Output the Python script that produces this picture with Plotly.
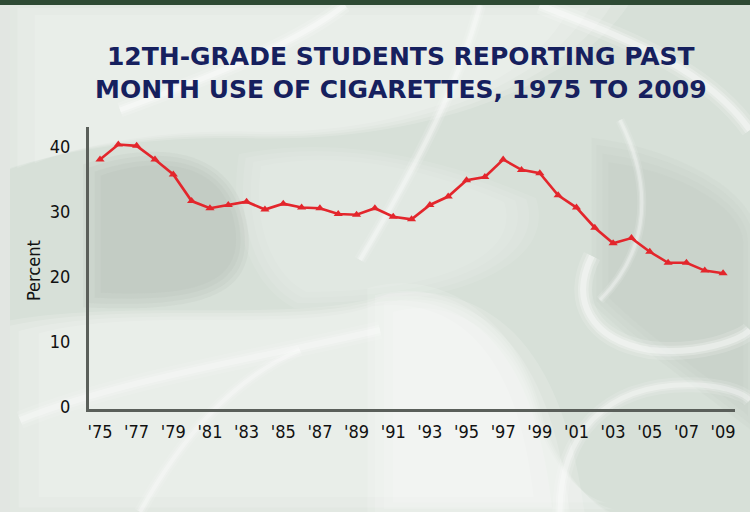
import plotly.graph_objects as go

years = list(range(1975, 2010))
percent = [38.1, 40.4, 40.2, 38.1, 35.8, 31.7, 30.6, 31.1, 31.6, 30.4,
           31.3, 30.7, 30.6, 29.7, 29.6, 30.6, 29.3, 28.9, 31.1, 32.4,
           34.9, 35.4, 38.1, 36.5, 36.0, 32.6, 30.7, 27.6, 25.2, 26.0,
           23.9, 22.2, 22.2, 21.0, 20.6]
tick_years = list(range(1975, 2010, 2))
tick_labels = ["'" + str(y)[2:] for y in tick_years]
y_ticks = [0, 10, 20, 30, 40]

title_text = "12TH-GRADE STUDENTS REPORTING PAST<br>MONTH USE OF CIGARETTES, 1975 TO 2009"

W, H = 750, 512
ML, MR, MT, MB = 89, 15, 127, 103
PW, PH = W - ML - MR, H - MT - MB


def px(x):
    return (x - ML) / PW


def py(y):
    return (H - MB - y) / PH


def path(cmds, scale=1.0):
    pts = [c for c in cmds if not isinstance(c, str)]
    cx = sum(p[0] for p in pts) / len(pts)
    cy = sum(p[1] for p in pts) / len(pts)
    out = []
    for c in cmds:
        if isinstance(c, str):
            out.append(c)
        else:
            x = cx + (c[0] - cx) * scale
            y = cy + (c[1] - cy) * scale
            out.append("%.4f,%.4f" % (px(x), py(y)))
    return " ".join(out)


fig = go.Figure()
fig.add_trace(go.Scatter(
    x=years, y=percent, mode="lines+markers",
    line=dict(color="#e3262c", width=2.6),
    marker=dict(symbol="triangle-up", size=8, color="#e3262c"),
    hoverinfo="x+y", showlegend=False,
))

shapes = []


def fill_shape(cmds, color, op):
    for s in (1.1, 1.04, 0.97, 0.9):
        shapes.append(dict(type="path", xref="paper", yref="paper", path=path(cmds, s),
                           fillcolor=color, opacity=op / 3.0, line=dict(width=0), layer="below"))


def stroke_shape(cmds, width, op):
    for w, o in ((width * 3.0, op * 0.25), (width * 1.8, op * 0.4), (width, op * 0.6)):
        shapes.append(dict(type="path", xref="paper", yref="paper", path=path(cmds),
                           fillcolor="rgba(0,0,0,0)", opacity=o,
                           line=dict(color="white", width=w), layer="below"))


# light washes
fill_shape(["M", (10, 5), "L", (600, 5), "C", (560, 80), (420, 140), (250, 135),
            "C", (150, 132), (60, 150), (10, 170), "Z"], "white", 0.45)
fill_shape(["M", (10, 330), "C", (120, 300), (300, 330), (380, 300),
            "C", (460, 290), (540, 330), (560, 512), "L", (10, 512), "Z"], "white", 0.45)
fill_shape(["M", (380, 300), "C", (450, 280), (520, 330), (540, 420),
            "C", (560, 480), (600, 512), (620, 512), "L", (380, 512), "Z"], "white", 0.4)
fill_shape(["M", (250, 160), "C", (350, 140), (450, 170), (520, 200),
            "C", (540, 260), (450, 300), (300, 300), "C", (260, 280), (240, 220), (250, 160), "Z"],
           "white", 0.25)
# darker regions
fill_shape(["M", (92, 170), "C", (150, 150), (225, 150), (240, 220),
            "C", (255, 290), (200, 305), (92, 300), "Z"], "#aab5ab", 0.4)
fill_shape(["M", (600, 150), "C", (680, 160), (750, 200), (750, 240),
            "L", (750, 420), "C", (700, 380), (640, 340), (600, 300), "Z"], "#b7c2b8", 0.35)
# smoke wisps
stroke_shape(["M", (345, 5), "C", (300, 40), (230, 70), (120, 110)], 5, 0.6)
stroke_shape(["M", (480, 5), "C", (460, 80), (420, 160), (360, 260)], 4, 0.5)
stroke_shape(["M", (540, 5), "C", (600, 30), (700, 60), (750, 130)], 6, 0.6)
stroke_shape(["M", (592, 256), "C", (570, 300), (590, 340), (650, 350),
              "C", (700, 355), (740, 340), (750, 330)], 6, 0.6)
stroke_shape(["M", (560, 512), "C", (560, 440), (600, 380), (700, 385),
              "C", (730, 387), (745, 395), (750, 400)], 5, 0.5)
stroke_shape(["M", (20, 420), "C", (120, 380), (250, 360), (380, 330)], 6, 0.45)
stroke_shape(["M", (140, 512), "C", (180, 440), (230, 380), (300, 350)], 4, 0.45)
stroke_shape(["M", (620, 120), "C", (660, 200), (640, 260), (600, 300)], 3, 0.45)

# left strip and top band
shapes.append(dict(type="rect", xref="paper", yref="paper", x0=px(0), x1=px(10), y0=py(H), y1=py(0),
                   fillcolor="#e2e6e2", line=dict(width=0), layer="below"))
shapes.append(dict(type="rect", xref="paper", yref="paper", x0=px(0), x1=px(W), y0=py(5), y1=py(0),
                   fillcolor="#2e4a34", line=dict(width=0), layer="above"))

tick_font = dict(family="DejaVu Sans Condensed, Roboto, sans-serif", size=18, color="#111111")

fig.update_layout(
    width=W, height=H,
    margin=dict(l=ML, r=MR, t=MT, b=MB, pad=0),
    paper_bgcolor="#d7e0d8",
    plot_bgcolor="rgba(0,0,0,0)",
    shapes=shapes,
    font=tick_font,
    xaxis=dict(
        range=[1974.4, 2009.65], tickmode="array", tickvals=tick_years, ticktext=tick_labels,
        showgrid=False, zeroline=False, showline=True, linecolor="#5a5f5a", linewidth=3,
        ticks="", tickfont=tick_font, ticklabelstandoff=4,
    ),
    yaxis=dict(
        range=[-0.3, 43.1], tickmode="array", tickvals=y_ticks,
        showgrid=False, zeroline=False, showline=True, linecolor="#5a5f5a", linewidth=3,
        ticks="", tickfont=tick_font, ticklabelstandoff=12,
    ),
    annotations=[
        dict(text=title_text, xref="paper", yref="paper", x=px(401), y=py(73),
             xanchor="center", yanchor="middle", showarrow=False, align="center",
             font=dict(family="DejaVu Sans, sans-serif", size=25, color="#16205e", weight="bold")),
        dict(text="Percent", xref="paper", yref="paper", x=px(33), y=py(271),
             xanchor="center", yanchor="middle", showarrow=False, textangle=-90,
             font=tick_font),
    ],
)

fig.write_html("out.html", config={"displayModeBar": False},
               post_script="document.body.style.margin='0';document.body.style.overflow='hidden';")
